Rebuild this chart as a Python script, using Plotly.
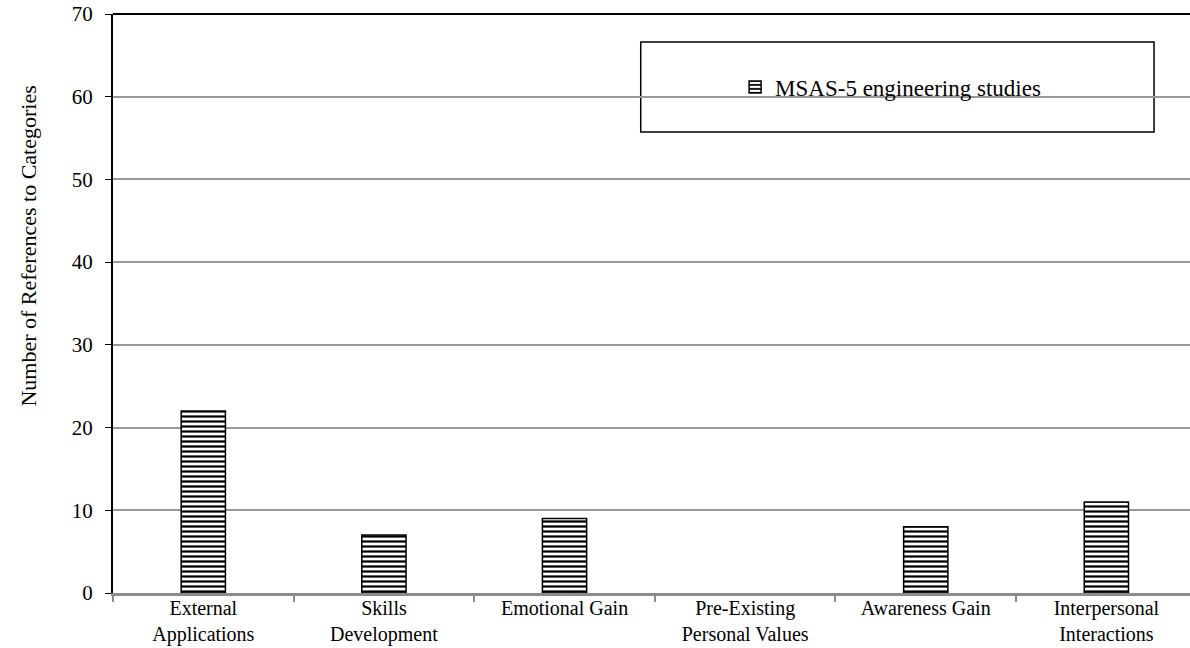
import plotly.graph_objects as go

# Category labels and reference counts
categories = [
    "External<br>Applications",
    "Skills<br>Development",
    "Emotional Gain",
    "Pre-Existing<br>Personal Values",
    "Awareness Gain",
    "Interpersonal<br>Interactions",
]
references = [22, 7, 9, 0, 8, 11]
series_name = "MSAS-5 engineering studies"
y_ticks = [0, 10, 20, 30, 40, 50, 60, 70]

FONT = "Liberation Serif, Times New Roman, serif"

# empty categories get no outline
outline_widths = [1.5 if v > 0 else 0 for v in references]

fig = go.Figure()
fig.add_trace(go.Bar(
    x=categories,
    y=references,
    name=series_name,
    width=0.245,
    marker=dict(
        color="white",
        line=dict(color="black", width=outline_widths),
        pattern=dict(shape="-", size=5, solidity=0.45,
                     fgcolor="black", bgcolor="white", fillmode="replace"),
    ),
    showlegend=True,
))

# Legend frame
fig.add_shape(type="rect", xref="paper", yref="paper",
              x0=0.490, x1=0.9666, y0=0.7962, y1=0.9516,
              line=dict(color="black", width=1.5), fillcolor="white", layer="below")
# Top border of the plot area
fig.add_shape(type="line", xref="paper", yref="paper",
              x0=0, x1=1, y0=1, y1=1,
              line=dict(color="black", width=2))

# Vertical axis title
fig.add_annotation(
    text="Number of References to Categories",
    xref="paper", yref="paper", x=-0.078, y=0.60,
    textangle=-90, showarrow=False,
    xanchor="center", yanchor="middle",
    font=dict(family=FONT, size=22, color="black"),
)

fig.update_layout(
    width=1190, height=648,
    margin=dict(l=113, r=0, t=14, b=55, autoexpand=False),
    paper_bgcolor="white",
    plot_bgcolor="white",
    font=dict(family=FONT, color="black"),
    bargap=0.75,
    legend=dict(
        x=0.722, y=0.874, xanchor="center", yanchor="middle",
        bgcolor="rgba(0,0,0,0)", borderwidth=0,
        font=dict(family=FONT, size=23, color="black"),
    ),
    xaxis=dict(
        type="category",
        range=[-0.5, 5.463],
        automargin=False,
        showline=True, linecolor="#8c8c8c", linewidth=3,
        ticks="outside", tickson="boundaries", ticklen=6,
        tickcolor="#8c8c8c", tickwidth=1.5,
        ticklabelstandoff=-5,
        showgrid=False,
        tickfont=dict(family=FONT, size=20, color="black"),
        fixedrange=True,
    ),
    yaxis=dict(
        range=[0, 70],
        tickvals=y_ticks,
        automargin=False,
        showline=True, linecolor="black", linewidth=2,
        ticks="outside", ticklen=6, tickcolor="black", tickwidth=1,
        ticklabelstandoff=8,
        showgrid=True, gridcolor="#999999", gridwidth=1.5,
        zeroline=False,
        tickfont=dict(family=FONT, size=21, color="black"),
    ),
)

fig.write_html("out.html")
